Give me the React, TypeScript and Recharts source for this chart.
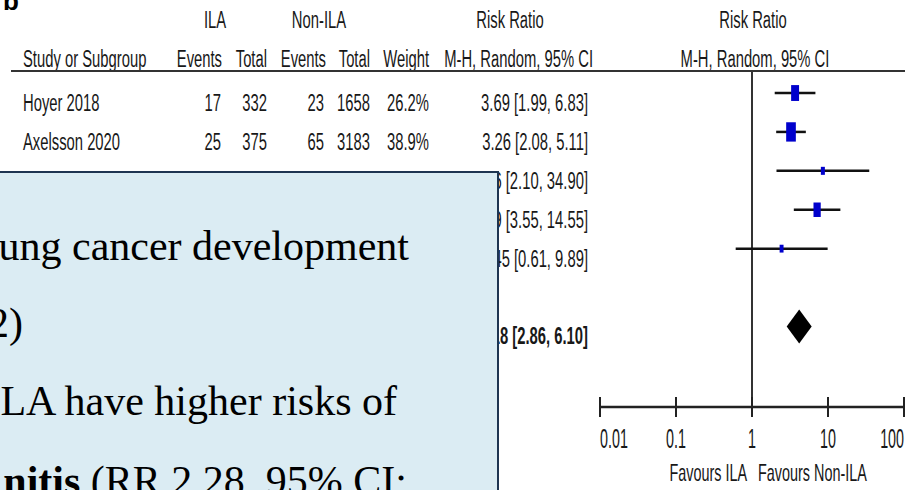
import { ComposedChart, XAxis, YAxis, Scatter, ReferenceLine, Customized } from 'recharts';

const studies = ['Hoyer 2018', 'Axelsson 2020', 'Lee 2020', 'Patel 2021', 'Sato 2021'];
const ilaEvents = [17, 25, 4, 12, 2];
const ilaTotals = [332, 375, 55, 118, 41];
const nonEvents = [23, 65, 5, 17, 6];
const nonTotals = [1658, 3183, 795, 1203, 356];
const weights = [26.2, 38.9, 6.7, 21.8, 6.4];
const ratios = [3.69, 3.26, 8.56, 7.19, 2.45];
const lowers = [1.99, 2.08, 2.1, 3.55, 0.61];
const uppers = [6.83, 5.11, 34.9, 14.55, 9.89];

const totalRow = 6;
const totalLabel = 'Total (95% CI)';
const totalIla = 921;
const totalNon = 7195;
const pooledRatio = 4.18;
const pooledLower = 2.86;
const pooledUpper = 6.1;

const xTicks = [0.01, 0.1, 1, 10, 100];
const rowTicks = [0, 1, 2, 3, 4, totalRow];

const noteLines = ['ung cancer development', '2)', 'LA have higher risks of'];

const FONT = '"Liberation Sans", Arial, sans-serif';
const INK = '#181818';

const fmt = (v: number) => v.toFixed(2);
const ciText = (r: number, l: number, u: number) => `${fmt(r)} [${fmt(l)}, ${fmt(u)}]`;

const boxData = studies.map((name, i) => ({ name, x: ratios[i], y: i, w: weights[i] }));

/** Narrow table text, squeezed the way the exported figure is. */
function T({ x, y, anchor = 'start', size = 23.5, sx = 0.63, bold = false, children }: any) {
  return (
    <text
      transform={`translate(${x},${y}) scale(${sx},1)`}
      textAnchor={anchor}
      fontSize={size}
      fontFamily={FONT}
      fontWeight={bold ? 700 : 400}
      fill={INK}
    >
      {children}
    </text>
  );
}

function RowTick(props: any) {
  const { y, payload } = props;
  const i = payload.value as number;
  const b = y + 18;
  if (i === totalRow) {
    return (
      <g>
        <T x={23} y={b} bold>{totalLabel}</T>
        <T x={267} y={b} anchor="end" bold>{totalIla}</T>
        <T x={370} y={b} anchor="end" bold>{totalNon}</T>
        <T x={429} y={b} anchor="end" bold>100.0%</T>
        <T x={588} y={b} anchor="end" bold>{ciText(pooledRatio, pooledLower, pooledUpper)}</T>
      </g>
    );
  }
  return (
    <g>
      <T x={23} y={b}>{studies[i]}</T>
      <T x={221} y={b} anchor="end">{ilaEvents[i]}</T>
      <T x={267} y={b} anchor="end">{ilaTotals[i]}</T>
      <T x={324} y={b} anchor="end">{nonEvents[i]}</T>
      <T x={370} y={b} anchor="end">{nonTotals[i]}</T>
      <T x={429} y={b} anchor="end">{weights[i].toFixed(1)}%</T>
      <T x={588} y={b} anchor="end">{ciText(ratios[i], lowers[i], uppers[i])}</T>
    </g>
  );
}

function AxisTick(props: any) {
  const { x, y, payload, index } = props;
  const anchor = index === 0 ? 'start' : index === xTicks.length - 1 ? 'end' : 'middle';
  return (
    <g>
      <line x1={x} x2={x} y1={y - 10} y2={y + 10} stroke="#222" strokeWidth={2} />
      <T x={x} y={y + 41} anchor={anchor} size={27} sx={0.53}>{payload.value}</T>
    </g>
  );
}

function WeightBox(props: any) {
  const { cx, cy, payload } = props;
  const h = 3.1 * Math.sqrt(payload.w);
  const w = h * 0.5;
  return <rect x={cx - w / 2} y={cy - h / 2} width={w} height={h} fill="#0000cc" />;
}

function Diamond(props: any) {
  const { x1, y1, x2 } = props;
  const mid = (x1 + x2) / 2;
  const half = 17;
  return <polygon points={`${x1},${y1} ${mid},${y1 - half} ${x2},${y1} ${mid},${y1 + half}`} fill="#000" />;
}

function Headers() {
  return (
    <g>
      <text x={3} y={10} fontSize={26} fontWeight={700} fontFamily={FONT} fill="#000">b</text>
      <T x={215} y={28} anchor="middle">ILA</T>
      <T x={319} y={28} anchor="middle">Non-ILA</T>
      <T x={510} y={28} anchor="middle">Risk Ratio</T>
      <T x={753} y={28} anchor="middle">Risk Ratio</T>
      <T x={23} y={67}>Study or Subgroup</T>
      <T x={222} y={67} anchor="end">Events</T>
      <T x={267} y={67} anchor="end">Total</T>
      <T x={326} y={67} anchor="end">Events</T>
      <T x={370} y={67} anchor="end">Total</T>
      <T x={429} y={67} anchor="end">Weight</T>
      <T x={593} y={67} anchor="end">M-H, Random, 95% CI</T>
      <T x={755} y={67} anchor="middle">M-H, Random, 95% CI</T>
      <line x1={11} x2={905} y1={71} y2={71} stroke="#333" strokeWidth={2} />
      <T x={747} y={481} anchor="end" size={24} sx={0.6}>Favours ILA</T>
      <T x={758} y={481} size={24} sx={0.6}>Favours Non-ILA</T>
    </g>
  );
}

export default function App() {
  return (
    <div style={{ position: 'absolute', left: 0, top: 0, width: 905, height: 490, overflow: 'hidden', background: '#fff' }}>
      <ComposedChart width={905} height={490} margin={{ top: 71, right: 1, bottom: 23, left: 0 }}>
        <XAxis
          type="number"
          dataKey="x"
          scale="log"
          domain={[0.01, 100]}
          ticks={xTicks}
          interval={0}
          allowDataOverflow
          height={60}
          tickSize={0}
          tickMargin={0}
          tickLine={false}
          axisLine={{ stroke: '#222', strokeWidth: 2.5 }}
          tick={<AxisTick />}
        />
        <YAxis
          type="number"
          dataKey="y"
          domain={[-0.566, 8.07]}
          reversed
          allowDataOverflow
          ticks={rowTicks}
          interval={0}
          width={600}
          axisLine={false}
          tickLine={false}
          tick={<RowTick />}
        />
        <ReferenceLine x={1} stroke="#333" strokeWidth={2} />
        {boxData.map((d, i) => (
          <ReferenceLine
            key={d.name}
            segment={[
              { x: lowers[i], y: i },
              { x: uppers[i], y: i },
            ]}
            stroke="#111"
            strokeWidth={2.5}
          />
        ))}
        <ReferenceLine
          segment={[
            { x: pooledLower, y: totalRow },
            { x: pooledUpper, y: totalRow },
          ]}
          shape={<Diamond />}
        />
        <Scatter data={boxData} dataKey="y" shape={<WeightBox />} isAnimationActive={false} />
        <Customized component={<Headers />} />
      </ComposedChart>
      <div
        style={{
          position: 'absolute',
          left: -3,
          top: 171,
          width: 502,
          height: 340,
          boxSizing: 'border-box',
          background: '#dbecf3',
          border: '2px solid #1e3551',
          overflow: 'hidden',
          fontFamily: '"Liberation Serif", "Times New Roman", serif',
          fontSize: 42,
          lineHeight: '42px',
          color: '#000',
          whiteSpace: 'nowrap',
        }}
      >
        <div style={{ position: 'absolute', right: 88, top: 52 }}>{noteLines[0]}</div>
        <div style={{ position: 'absolute', right: 474, top: 129 }}>{noteLines[1]}</div>
        <div style={{ position: 'absolute', right: 100, top: 207 }}>{noteLines[2]}</div>
        <div style={{ position: 'absolute', right: 90, top: 287 }}>
          <b>nitis</b> (RR 2.28, 95% CI:
        </div>
      </div>
    </div>
  );
}
